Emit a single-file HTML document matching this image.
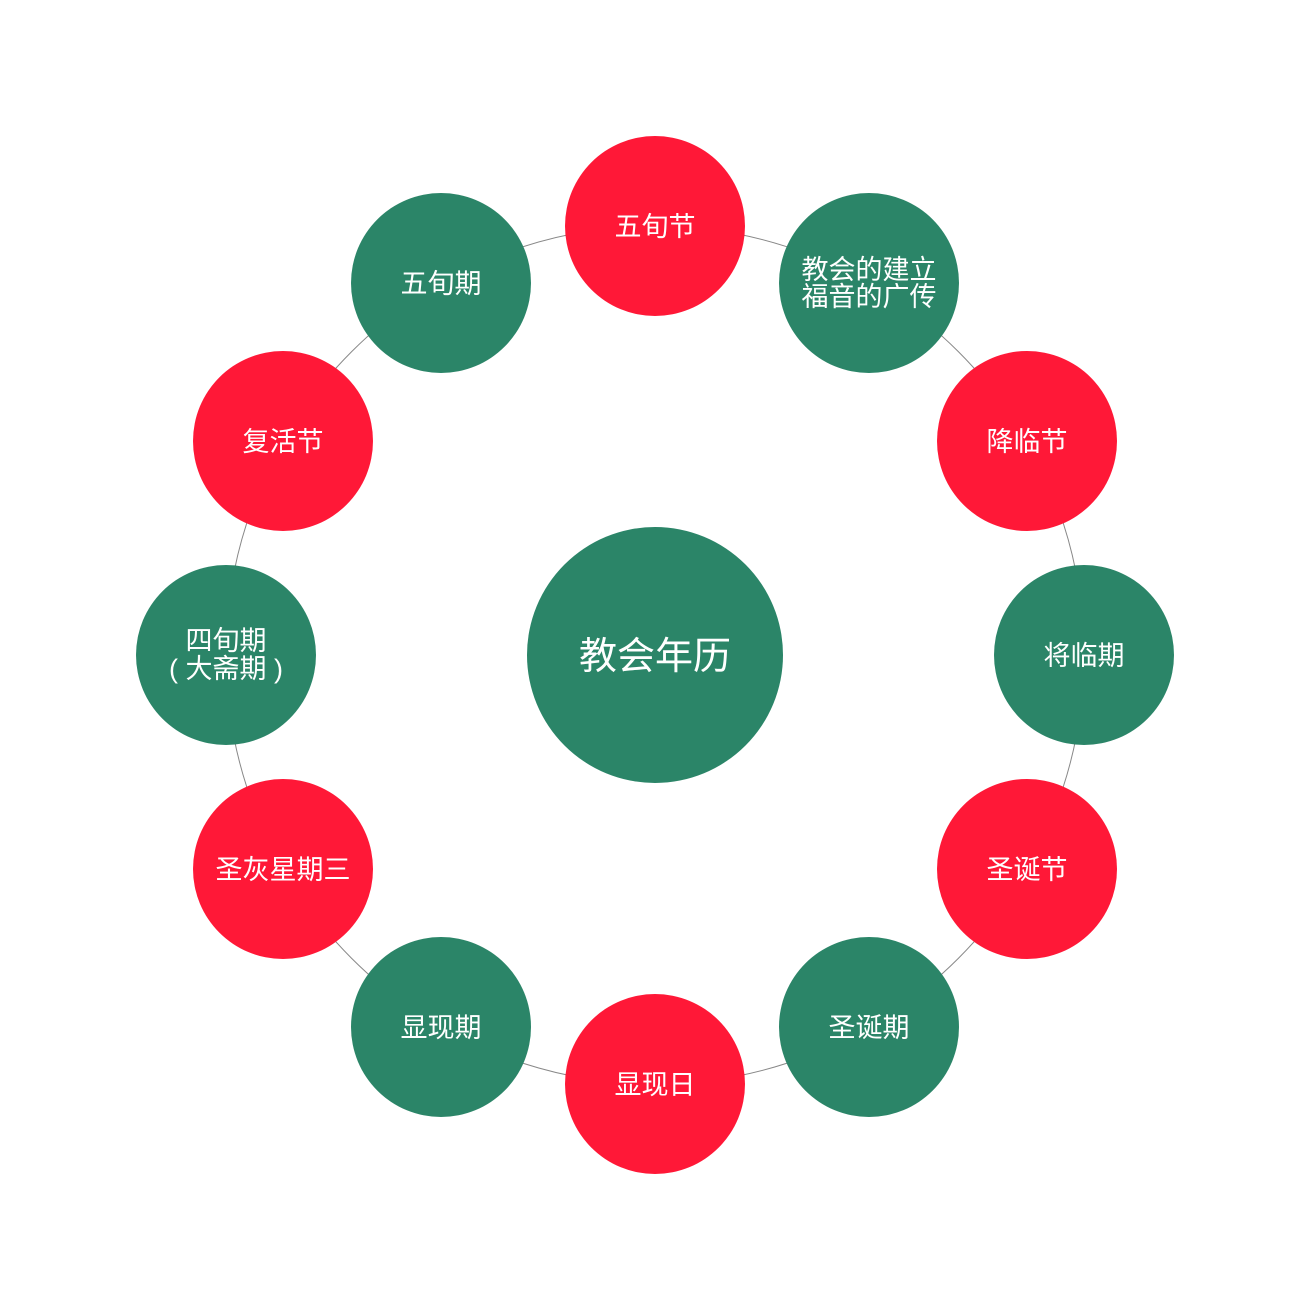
<!DOCTYPE html>
<html><head><meta charset="utf-8"><style>
html,body{margin:0;padding:0;background:#fff;}
text{font-family:"Liberation Sans","Noto Sans CJK SC",sans-serif;fill:#fff;}
</style></head><body>
<svg width="1310" height="1310" viewBox="0 0 1310 1310" xmlns="http://www.w3.org/2000/svg">
<circle cx="655" cy="655" r="429" stroke="#888" stroke-width="1" fill="none"/>
<g>
<circle cx="655" cy="226" r="90" fill="#FF1837"/>
<circle cx="869" cy="283" r="90" fill="#2B8568"/>
<circle cx="1027" cy="441" r="90" fill="#FF1837"/>
<circle cx="1084" cy="655" r="90" fill="#2B8568"/>
<circle cx="1027" cy="869" r="90" fill="#FF1837"/>
<circle cx="869" cy="1027" r="90" fill="#2B8568"/>
<circle cx="655" cy="1084" r="90" fill="#FF1837"/>
<circle cx="441" cy="1027" r="90" fill="#2B8568"/>
<circle cx="283" cy="869" r="90" fill="#FF1837"/>
<circle cx="226" cy="655" r="90" fill="#2B8568"/>
<circle cx="283" cy="441" r="90" fill="#FF1837"/>
<circle cx="441" cy="283" r="90" fill="#2B8568"/>
<circle cx="655" cy="655" r="128" fill="#2B8568"/>
</g>
<g font-size="27" text-anchor="middle">
<text x="655" y="236">五旬节</text>
<text x="869" y="279">教会的建立</text>
<text x="869" y="306">福音的广传</text>
<text x="1027" y="451">降临节</text>
<text x="1084" y="665">将临期</text>
<text x="1027" y="879">圣诞节</text>
<text x="869" y="1037">圣诞期</text>
<text x="655" y="1094">显现日</text>
<text x="441" y="1037">显现期</text>
<text x="283" y="879">圣灰星期三</text>
<text x="226" y="650">四旬期</text>
<text x="226" y="678">( 大斋期 )</text>
<text x="283" y="451">复活节</text>
<text x="441" y="293">五旬期</text>
<text x="655" y="669" font-size="38">教会年历</text>
</g>
</svg>
</body></html>
